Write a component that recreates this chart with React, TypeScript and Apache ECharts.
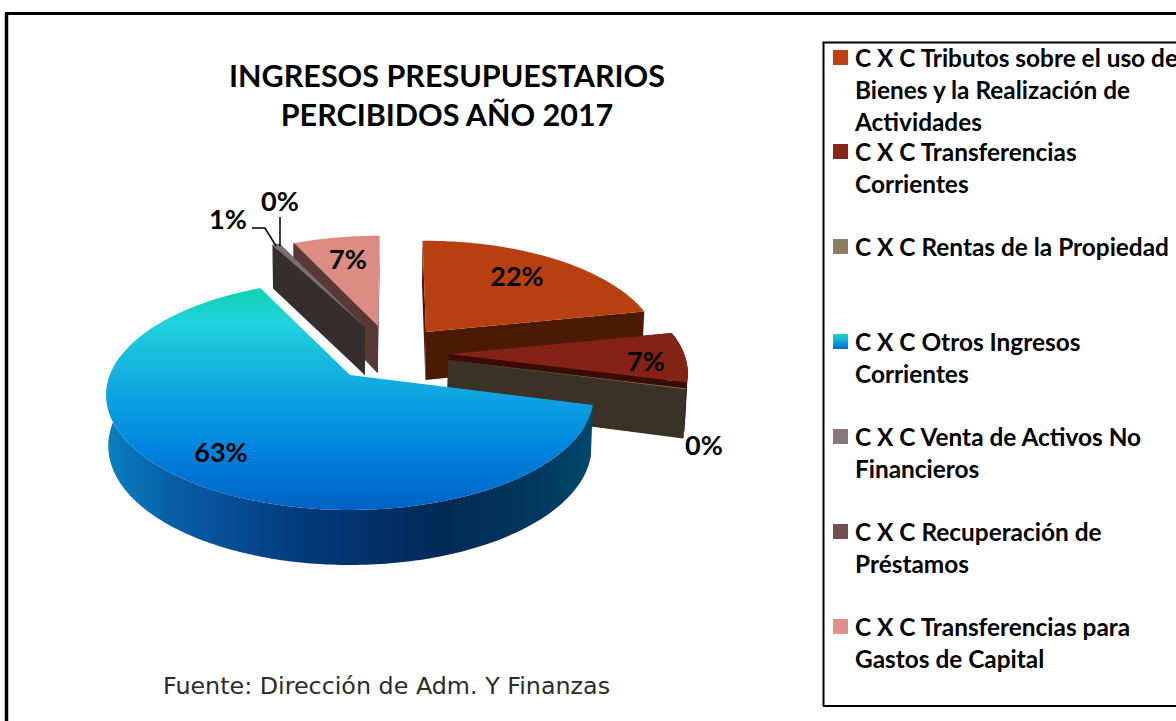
import React, { useEffect, useRef } from "react";
import * as echarts from "echarts";

const TITLE = "INGRESOS PRESUPUESTARIOS\nPERCIBIDOS AÑO 2017";
const SOURCE = "Fuente: Dirección de Adm. Y Finanzas";
const CATEGORIES = [
  "C X C Tributos sobre el uso de\nBienes y la Realización de\nActividades",
  "C X C Transferencias\nCorrientes",
  "C X C Rentas de la Propiedad",
  "C X C Otros Ingresos\nCorrientes",
  "C X C Venta de Activos No\nFinancieros",
  "C X C Recuperación de\nPréstamos",
  "C X C Transferencias para\nGastos de Capital",
];
const VALUES = [22.1, 7.2, 0.1, 63.2, 0.6, 0.1, 6.7];

// Styling and layout (not data)
const TOP_COLORS = ["#b83f10", "#842216", "#8e7d5f", "", "#7d6e74", "#734e4e", "#dc8c82"];
const WALL_COLORS = ["#4c1904", "#3b0c06", "#3a3226", "", "#352e2d", "#5a3836", "#5a3836"];
const SWATCHES = ["#c0400f", "#872519", "#8e7d5f", "", "#857680", "#734e4e", "#e0908a"];
const LEGEND_Y = [58, 152, 247, 342, 437, 532, 627];
const APEX: [number, number][] = [[426, 332], [449, 354], [448, 360], [350, 375], [365, 327], [378, 326], [378, 326]];
const SCALE = [0.96, 0.98, 0.98, 1, 0.96, 0.95, 0.95];
const HEIGHT = [48, 48, 48, 50, 48, 47, 47];
const PAINT = [0, 3, 4, 5, 2, 1, 1];
const END_NUDGE = [0, 0, 0, 2, 0, 0, 1.5];
const LABEL_POS: [number, number][] = [[517, 275], [646, 360], [704, 444], [221, 451], [228, 218], [280, 200], [348, 258]];

const K = 0.174, R = 240, B = 111.5, ROT = -1;
const total = VALUES.reduce((a, b) => a + b, 0);
const starts: number[] = [];
VALUES.reduce((acc, v, i) => { starts[i] = acc; return acc + v; }, 0);
const angleOf = (cum: number) => (cum / total) * 360 + ROT;

function rim(ax: number, ay: number, deg: number, s: number): [number, number] {
  const t = (deg * Math.PI) / 180, u = Math.sin(t), v = -Math.cos(t), w = 1 - K * v;
  return [ax + (R * s * u) / w, ay + (B * s * v) / w];
}
function down(p: [number, number], h: number, depth: number): [number, number] {
  return [p[0] + (350 - p[0]) * 0.008, p[1] + h * (1 + 0.1 * depth)];
}

const blueTop = () => new echarts.graphic.LinearGradient(0, 283, 0, 510, [
  { offset: 0, color: "#0bd1ab" }, { offset: 0.17, color: "#20d3dc" }, { offset: 0.5, color: "#0ea3e0" },
  { offset: 0.72, color: "#0086e0" }, { offset: 1, color: "#0062c4" },
], true as any);
const blueWall = () => new echarts.graphic.LinearGradient(106, 0, 594, 0, [
  { offset: 0, color: "#0a80c0" }, { offset: 0.14, color: "#085ea6" }, { offset: 0.4, color: "#033a7c" },
  { offset: 0.68, color: "#012a56" }, { offset: 0.88, color: "#02385f" }, { offset: 1, color: "#02486c" },
], true as any);

function renderItem(params: any, api: any) {
  const i = params.dataIndex;
  const value = api.value(0);
  const [ax, ay] = APEX[i];
  const s = SCALE[i], h = HEIGHT[i];
  const a0 = angleOf(starts[i]);
  const a1 = angleOf(starts[i] + value) + END_NUDGE[i];
  const isBlue = i === 3;
  const z = PAINT[i] * 10;
  const top = isBlue ? blueTop() : TOP_COLORS[i];
  const wall = isBlue ? blueWall() : WALL_COLORS[i];
  const children: any[] = [];
  const poly = (points: number[][], fill: any, z2: number) =>
    children.push({ type: "polygon", shape: { points }, style: { fill }, z2, silent: true });

  const apex: [number, number] = [ax, ay];
  const apexB = down(apex, h, 0);
  const cA = rim(ax, ay, a0, s), cB = rim(ax, ay, a1, s);
  const vA = -Math.cos((a0 * Math.PI) / 180), vB = -Math.cos((a1 * Math.PI) / 180);
  if (!isBlue) {
    poly([apex, cA, down(cA, h, vA), apexB], wall, z);
    poly([apex, cB, down(cB, h, vB), apexB], wall, z + 1);
  }
  // The rim's widest points lie a little in front of 90 and 270 degrees in perspective.
  const wf = Math.max(a0, 80), wt = Math.min(a1, 280);
  if (wt > wf) {
    const upper: number[][] = [], lower: number[][] = [];
    for (let d = wf; d <= wt + 1e-6; d += Math.min(1, Math.max(wt - wf, 0.01))) {
      const p = rim(ax, ay, d, s);
      upper.push(p);
      lower.unshift(down(p, h, -Math.cos((d * Math.PI) / 180)));
    }
    poly(upper.concat(lower), wall, z + 2);
  }
  const face: number[][] = [apex];
  const step = Math.min(1, a1 - a0);
  for (let d = a0; d < a1; d += step) face.push(rim(ax, ay, d, s));
  face.push(cB);
  poly(face, top, z + 3);

  children.push({
    type: "text", z2: 1000, silent: true,
    style: {
      text: Math.round(value) + "%", x: LABEL_POS[i][0], y: LABEL_POS[i][1],
      font: "700 27px Lato", fill: "#000", textAlign: "center", textVerticalAlign: "middle",
    },
  });
  return { type: "group", children };
}

const legendGraphics = CATEGORIES.flatMap((name, i) => [
  {
    type: "rect", z: 10, shape: { x: 833, y: LEGEND_Y[i] - 8, width: 15, height: 15 },
    style: {
      fill: i === 3
        ? new echarts.graphic.LinearGradient(0, 0, 0, 1, [
            { offset: 0, color: "#12d4bc" }, { offset: 0.4, color: "#12b4e0" }, { offset: 1, color: "#0068c8" },
          ])
        : SWATCHES[i],
    },
  },
  {
    type: "text", z: 10, x: 855, y: LEGEND_Y[i] - 16,
    style: { text: name, font: "700 24.4px Lato", lineHeight: 31.7, fill: "#000", textAlign: "left", textVerticalAlign: "top" },
  },
]);

export default function App() {
  const ref = useRef<HTMLDivElement>(null);
  useEffect(() => {
    const chart = echarts.init(ref.current!, undefined, { renderer: "svg" });
    chart.setOption({
      animation: false,
      backgroundColor: "#fff",
      series: [{
        type: "custom", coordinateSystem: "none", renderItem,
        data: VALUES.map((v) => [v]), silent: true, clip: false,
      }],
      graphic: [
        { type: "line", z: 5, shape: { x1: 6.5, y1: 13, x2: 6.5, y2: 721 }, style: { stroke: "#000", lineWidth: 3.5 } },
        { type: "line", z: 5, shape: { x1: 5, y1: 13.5, x2: 1176, y2: 13.5 }, style: { stroke: "#000", lineWidth: 3 } },
        { type: "polyline", z: 5, shape: { points: [[823.5, 706], [823.5, 42.5], [1176, 42.5]] }, style: { stroke: "#000", lineWidth: 2, fill: "none" } },
        { type: "line", z: 5, shape: { x1: 823, y1: 706, x2: 1176, y2: 706 }, style: { stroke: "#000", lineWidth: 2 } },
        {
          type: "text", z: 10, x: 447, y: 94,
          style: { text: TITLE, font: "700 30.5px Lato", lineHeight: 39, fill: "#000", textAlign: "center", textVerticalAlign: "middle" },
        },
        {
          type: "text", z: 10, x: 163, y: 686,
          style: { text: SOURCE, font: "400 23.8px 'DejaVu Sans'", fill: "#2b2b2b", textAlign: "left", textVerticalAlign: "middle" },
        },
        { type: "polyline", z: 20, shape: { points: [[252, 228], [265, 228], [276, 246]] }, style: { stroke: "#000", lineWidth: 1.5, fill: "none" } },
        { type: "line", z: 20, shape: { x1: 280, y1: 217, x2: 280, y2: 246 }, style: { stroke: "#000", lineWidth: 1.5 } },
        ...legendGraphics,
      ],
    });
    return () => chart.dispose();
  }, []);
  return <div ref={ref} style={{ position: "fixed", left: 0, top: 0, width: 1176, height: 721 }} />;
}
